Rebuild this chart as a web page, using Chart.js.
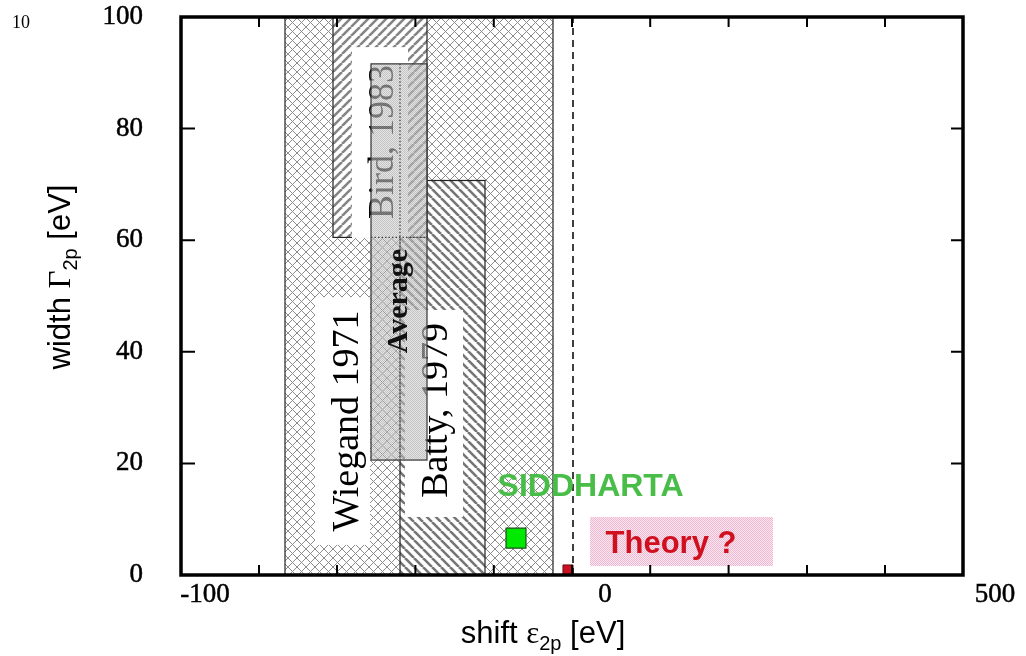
<!DOCTYPE html>
<html><head><meta charset="utf-8">
<script src="https://cdn.jsdelivr.net/npm/chart.js@4/dist/chart.umd.min.js"></script>
<style>html,body{margin:0;padding:0;background:#fff;}#wrap{width:1026px;height:656px;position:relative;}canvas{display:block;}</style>
</head><body><div id="wrap"><canvas id="c" width="1026" height="656" style="width:1026px;height:656px"></canvas></div>
<script>
// ---- data (x: shift in eV, y: width in eV) ----
const boxNames = ['Wiegand 1971', 'Batty, 1979', 'Bird, 1983', 'Average'];
const boxXMin = [-80, -51.25, -68, -58.5];
const boxXMax = [-13, -30, -44.5, -44.5];
const boxYMin = [0, 0, 60.5, 20.6];
const boxYMax = [100, 70.7, 100, 91.6];
const siddhartaX = [-22.25];
const siddhartaY = [6.6];
const theoryPointX = [-9.25];
const theoryPointY = [0.9];
const theoryRangeX = [-3.75, 42];
const theoryRangeY = [1.6, 10.4];
const dashedLineX = [-8, -8];
const dashedLineY = [0, 100];
const yTickValues = [0, 20, 40, 60, 80, 100];
const xTickLabels = ['-100', '0', '500'];
const xTickValues = [-100, 0, 97.5];
const xMinorTicks = [-86.5, -67, -47.4, -27.8, -8.25, 11.3, 30.9, 50.5, 70];
const yMinorTicks = [20, 40, 60, 80];

// label boxes (white backgrounds) and label anchors, in data units
const labelBgXMin = [-72.5, -50, -63.25];
const labelBgXMax = [-58.75, -35.5, -49.25];
const labelBgYMin = [5.4, 10.4, 60.4];
const labelBgYMax = [49.8, 47.5, 94.6];
const labelX = [-61.75, -39.6, -53, -49.5];
const labelY = [27.6, 29.5, 77.6, 49.1];

function makePattern(ctx, kind, s, lw, color, bg) {
  const c = document.createElement('canvas');
  c.width = s; c.height = s;
  const g = c.getContext('2d');
  if (bg) { g.fillStyle = bg; g.fillRect(0, 0, s, s); }
  g.strokeStyle = color; g.lineWidth = lw;
  const dirs = kind === 'x' ? ['/', '\\'] : [kind];
  for (const d of dirs) {
    g.beginPath();
    for (const k of [-s, 0, s]) {
      if (d === '/') { g.moveTo(k, s); g.lineTo(k + s, 0); }
      else { g.moveTo(k, 0); g.lineTo(k + s, s); }
    }
    g.stroke();
  }
  return ctx.createPattern(c, 'repeat');
}
function makeChecker(ctx, a, b) {
  const c = document.createElement('canvas');
  c.width = 2; c.height = 2;
  const g = c.getContext('2d');
  g.fillStyle = a; g.fillRect(0, 0, 1, 1); g.fillRect(1, 1, 1, 1);
  g.fillStyle = b; g.fillRect(1, 0, 1, 1); g.fillRect(0, 1, 1, 1);
  return ctx.createPattern(c, 'repeat');
}

function rect(chart, x0, x1, y0, y1) {
  const xs = chart.scales.x, ys = chart.scales.y;
  const a = xs.getPixelForValue(x0), b = xs.getPixelForValue(x1);
  const c = ys.getPixelForValue(y1), d = ys.getPixelForValue(y0);
  return [a, c, b - a, d - c];
}
function rotText(ctx, text, x, y, font, color) {
  ctx.save();
  ctx.translate(x, y); ctx.rotate(-Math.PI / 2);
  ctx.font = font; ctx.fillStyle = color;
  ctx.textAlign = 'center'; ctx.textBaseline = 'alphabetic';
  ctx.fillText(text, 0, 0);
  ctx.restore();
}
function partsText(ctx, parts, cx, y) {
  let w = 0;
  for (const p of parts) { ctx.font = p.f; w += ctx.measureText(p.t).width; }
  let x = cx - w / 2;
  ctx.textAlign = 'left'; ctx.textBaseline = 'alphabetic'; ctx.fillStyle = '#000';
  for (const p of parts) { ctx.font = p.f; ctx.fillText(p.t, x, y + (p.dy || 0)); x += ctx.measureText(p.t).width; }
}

const SANS = '"Liberation Sans", Arial, sans-serif';
const SERIF = '"Liberation Serif", "Times New Roman", serif';

const boxesPlugin = {
  id: 'boxes',
  beforeDatasetsDraw(chart) {
    const ctx = chart.ctx, ca = chart.chartArea;
    const xs = chart.scales.x, ys = chart.scales.y;
    const pCross = makePattern(ctx, 'x', 9, 1, '#8c8c8c', '#ffffff');
    const pBack = makePattern(ctx, '\\', 9, 2.6, '#767676', '#ffffff');
    const pFwd = makePattern(ctx, '/', 9, 2.6, '#858585', '#ffffff');
    const pAvg = makeChecker(ctx, 'rgba(165,165,165,0.65)', 'rgba(210,210,210,0.6)');
    const pPink = makeChecker(ctx, '#efb6d2', '#fbe9f2');
    ctx.save();
    ctx.beginPath(); ctx.rect(ca.left, ca.top, ca.right - ca.left, ca.bottom - ca.top); ctx.clip();
    const fills = [pCross, pBack, pFwd];
    for (let i = 0; i < 3; i++) {
      const r = rect(chart, boxXMin[i], boxXMax[i], boxYMin[i], boxYMax[i]);
      ctx.fillStyle = fills[i]; ctx.fillRect(...r);
      ctx.strokeStyle = '#222'; ctx.lineWidth = 1.2; ctx.strokeRect(...r);
    }
    // white label backgrounds
    ctx.fillStyle = '#ffffff';
    for (let i = 0; i < labelBgXMin.length; i++) {
      ctx.fillRect(...rect(chart, labelBgXMin[i], labelBgXMax[i], labelBgYMin[i], labelBgYMax[i]));
    }
    // labels
    const px = v => xs.getPixelForValue(v), py = v => ys.getPixelForValue(v);
    rotText(ctx, boxNames[0], px(labelX[0]), py(labelY[0]), '38px ' + SERIF, '#000');
    rotText(ctx, boxNames[1], px(labelX[1]), py(labelY[1]), '38px ' + SERIF, '#000');
    rotText(ctx, boxNames[2], px(labelX[2]), py(labelY[2]), '36px ' + SERIF, '#000');
    // average overlay
    const ra = rect(chart, boxXMin[3], boxXMax[3], boxYMin[3], boxYMax[3]);
    ctx.fillStyle = pAvg; ctx.fillRect(...ra);
    ctx.strokeStyle = '#333'; ctx.lineWidth = 1.2; ctx.strokeRect(...ra);
    // underlying edges seen through the average box
    ctx.setLineDash([1.5, 2]); ctx.lineWidth = 1.3; ctx.strokeStyle = '#444';
    ctx.beginPath();
    ctx.moveTo(px(boxXMin[3]), py(boxYMin[2])); ctx.lineTo(px(boxXMax[3]), py(boxYMin[2]));
    ctx.moveTo(px(boxXMin[1]), py(boxYMax[3])); ctx.lineTo(px(boxXMin[1]), py(boxYMin[3]));
    ctx.stroke(); ctx.setLineDash([]);
    rotText(ctx, boxNames[3], px(labelX[3]), py(labelY[3]), 'bold 30px ' + SERIF, '#111');
    // theory range box
    ctx.fillStyle = pPink;
    ctx.fillRect(...rect(chart, theoryRangeX[0], theoryRangeX[1], theoryRangeY[0], theoryRangeY[1]));
    ctx.restore();
  },
  afterDatasetsDraw(chart) {
    const ctx = chart.ctx, ca = chart.chartArea;
    const xs = chart.scales.x, ys = chart.scales.y;
    const px = v => xs.getPixelForValue(v), py = v => ys.getPixelForValue(v);
    ctx.save();
    // texts
    ctx.textAlign = 'center'; ctx.textBaseline = 'alphabetic';
    ctx.font = 'bold 32px ' + SANS; ctx.fillStyle = '#48bd48';
    ctx.fillText('SIDDHARTA', px(-3.6), py(14.2));
    ctx.font = 'bold 31px ' + SANS; ctx.fillStyle = '#d0101e';
    ctx.fillText('Theory ?', px(16.5), py(3.9));
    // frame
    ctx.strokeStyle = '#000'; ctx.lineWidth = 3.5;
    ctx.strokeRect(ca.left, ca.top, ca.right - ca.left, ca.bottom - ca.top);
    // inward tick marks
    ctx.lineWidth = 2; ctx.beginPath();
    for (const v of xMinorTicks) {
      const x = px(v);
      ctx.moveTo(x, ca.top); ctx.lineTo(x, ca.top + 10);
      ctx.moveTo(x, ca.bottom); ctx.lineTo(x, ca.bottom - 10);
    }
    for (const v of yMinorTicks) {
      const y = py(v);
      ctx.moveTo(ca.left, y); ctx.lineTo(ca.left + 14, y);
      ctx.moveTo(ca.right, y); ctx.lineTo(ca.right - 12, y);
    }
    ctx.stroke();
    // x tick labels
    ctx.font = '27px ' + SERIF; ctx.fillStyle = '#000';
    ctx.strokeStyle = '#000'; ctx.lineWidth = 0.5;
    ctx.textAlign = 'center'; ctx.textBaseline = 'alphabetic';
    for (let i = 0; i < xTickLabels.length; i++) {
      ctx.fillText(xTickLabels[i], px(xTickValues[i]), 602);
      ctx.strokeText(xTickLabels[i], px(xTickValues[i]), 602);
    }
    // axis titles
    partsText(ctx, [
      { t: 'shift ', f: '31px ' + SANS },
      { t: 'ε', f: '31px ' + SERIF },
      { t: '2p', f: '20px ' + SANS, dy: 7 },
      { t: ' [eV]', f: '31px ' + SANS }
    ], 543, 643);
    ctx.save();
    ctx.translate(70, 277); ctx.rotate(-Math.PI / 2);
    partsText(ctx, [
      { t: 'width ', f: '31px ' + SANS },
      { t: 'Γ', f: '31px ' + SERIF },
      { t: '2p', f: '20px ' + SANS, dy: 7 },
      { t: ' [eV]', f: '31px ' + SANS }
    ], 0, 0);
    ctx.restore();
    // corner label
    ctx.font = '18px ' + SERIF; ctx.textAlign = 'left';
    ctx.fillText('10', 12, 28);
    ctx.restore();
  }
};

new Chart(document.getElementById('c'), {
  type: 'scatter',
  data: {
    datasets: [
      {
        label: 'edge', showLine: true,
        data: dashedLineX.map((x, i) => ({ x, y: dashedLineY[i] })),
        borderColor: '#000', borderWidth: 1.5, borderDash: [7, 5], pointRadius: 0
      },
      {
        label: 'SIDDHARTA',
        data: siddhartaX.map((x, i) => ({ x, y: siddhartaY[i] })),
        pointStyle: 'rect', pointRadius: 14.1, backgroundColor: '#00ea00', borderColor: '#1d4d1d', borderWidth: 1.2
      },
      {
        label: 'Theory',
        data: theoryPointX.map((x, i) => ({ x, y: theoryPointY[i] })),
        pointStyle: 'rect', pointRadius: 7.1, backgroundColor: '#cc1020', borderColor: '#6a0a10', borderWidth: 1
      }
    ]
  },
  options: {
    responsive: false, animation: false, maintainAspectRatio: false, devicePixelRatio: 1,
    layout: { padding: { top: 17, right: 63, left: 0, bottom: 0 } },
    plugins: { legend: { display: false }, tooltip: { enabled: false } },
    scales: {
      x: {
        type: 'linear', min: -106, max: 89.5,
        ticks: { display: false }, grid: { display: false }, border: { display: false },
        afterFit: s => { s.height = 81; s.paddingLeft = 0; s.paddingRight = 0; }
      },
      y: {
        type: 'linear', min: 0, max: 100,
        afterBuildTicks: s => { s.ticks = yTickValues.map(v => ({ value: v })); },
        ticks: { color: '#000', padding: 38, textStrokeColor: '#000', textStrokeWidth: 0.5,
                 font: { family: '"Liberation Serif", serif', size: 27 } },
        grid: { display: false, drawTicks: false }, border: { display: false },
        afterFit: s => { s.width = 181; s.paddingTop = 0; s.paddingBottom = 0; }
      }
    }
  },
  plugins: [boxesPlugin]
});
</script>
</body></html>
